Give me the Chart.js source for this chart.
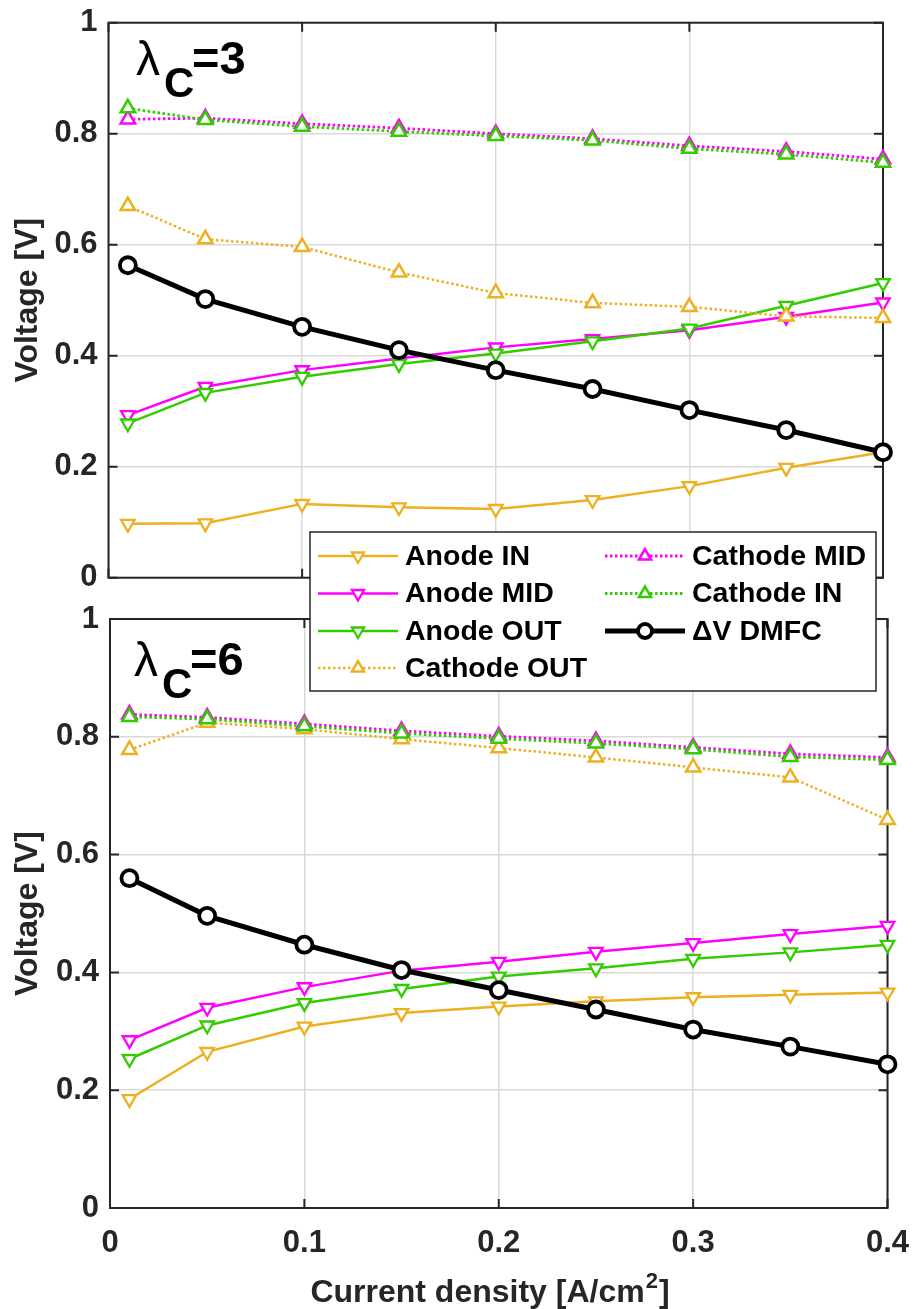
<!DOCTYPE html>
<html>
<head>
<meta charset="utf-8">
<script src="https://cdn.jsdelivr.net/npm/chart.js@4.4.1/dist/chart.umd.min.js"></script>
<style>
  html, body { margin: 0; padding: 0; background: #fff; }
  #wrap { position: relative; width: 914px; height: 1309px; }
  #wrap canvas { position: absolute; left: 0; top: 0; }
  #lower { z-index: 1; }
  #upper { z-index: 2; }
</style>
</head>
<body>
<div id="wrap">
  <canvas id="lower" width="914" height="1309"></canvas>
  <canvas id="upper" width="914" height="1309"></canvas>
</div>
<script>
// ---- data ---------------------------------------------------------------
const currentDensity = [0.01, 0.05, 0.10, 0.15, 0.20, 0.25, 0.30, 0.35, 0.40];
const xTicks = [0, 0.1, 0.2, 0.3, 0.4];
const xTickLabels = ['0', '0.1', '0.2', '0.3', '0.4'];
const yTicks = [0, 0.2, 0.4, 0.6, 0.8, 1];
const yTickLabels = ['0', '0.2', '0.4', '0.6', '0.8', '1'];
const seriesNames = ['Anode IN', 'Anode MID', 'Anode OUT', 'Cathode OUT',
                     'Cathode MID', 'Cathode IN', '\u0394V DMFC'];

// cathode stoichiometry 3
const l3AnodeIn  = [0.097, 0.098, 0.133, 0.127, 0.124, 0.140, 0.165, 0.198, 0.226];
const l3AnodeMid = [0.293, 0.344, 0.374, 0.395, 0.415, 0.430, 0.446, 0.470, 0.496];
const l3AnodeOut = [0.278, 0.333, 0.362, 0.385, 0.404, 0.426, 0.449, 0.490, 0.531];
const l3CathOut  = [0.670, 0.610, 0.596, 0.550, 0.513, 0.495, 0.488, 0.471, 0.468];
const l3CathMid  = [0.826, 0.828, 0.818, 0.810, 0.800, 0.791, 0.778, 0.768, 0.754];
const l3CathIn   = [0.846, 0.825, 0.813, 0.804, 0.796, 0.788, 0.773, 0.763, 0.748];
const l3DeltaV   = [0.563, 0.502, 0.452, 0.410, 0.374, 0.340, 0.302, 0.266, 0.226];

// cathode stoichiometry 6
const l6AnodeIn  = [0.185, 0.265, 0.308, 0.331, 0.342, 0.351, 0.358, 0.362, 0.366];
const l6AnodeMid = [0.285, 0.340, 0.375, 0.403, 0.418, 0.435, 0.450, 0.465, 0.479];
const l6AnodeOut = [0.253, 0.310, 0.348, 0.372, 0.393, 0.407, 0.423, 0.434, 0.447];
const l6CathOut  = [0.778, 0.824, 0.813, 0.796, 0.781, 0.765, 0.748, 0.731, 0.659];
const l6CathMid  = [0.838, 0.833, 0.822, 0.810, 0.801, 0.793, 0.782, 0.771, 0.765];
const l6CathIn   = [0.834, 0.830, 0.818, 0.806, 0.797, 0.789, 0.779, 0.766, 0.761];
const l6DeltaV   = [0.560, 0.496, 0.447, 0.404, 0.370, 0.337, 0.303, 0.274, 0.244];

// ---- styling ------------------------------------------------------------
const ORANGE = '#EDB120', MAGENTA = '#FF00FF', GREEN = '#33CC00', BLACK = '#000000';
const AXIS = '#262626', GRID = '#d9d9d9';
const FONT = '"Liberation Sans", Arial, Helvetica, sans-serif';
const DOT = [2.5, 2.5];

const down = { pointStyle: 'triangle', rot: 180, r: 7.8, pbw: 2.3 };
const up   = { pointStyle: 'triangle', rot: 0,   r: 8.3, pbw: 2.5 };
const ring = { pointStyle: 'circle',   rot: 0,   r: 8,   pbw: 3.8 };
const styles = [
  { color: ORANGE,  width: 2.5, dash: [],  ...down },
  { color: MAGENTA, width: 2.5, dash: [],  ...down },
  { color: GREEN,   width: 2.5, dash: [],  ...down },
  { color: ORANGE,  width: 2.5, dash: DOT, ...up },
  { color: MAGENTA, width: 2.8, dash: DOT, ...up },
  { color: GREEN,   width: 2.8, dash: DOT, ...up },
  { color: BLACK,   width: 5,   dash: [],  ...ring },
];

function makeDatasets(seriesValues) {
  const n = seriesValues.length;
  return seriesValues.map((vals, i) => {
    const s = styles[i];
    return {
      label: seriesNames[i],
      data: currentDensity.map((x, k) => ({ x: x, y: vals[k] })),
      borderColor: s.color,
      backgroundColor: '#ffffff',
      borderWidth: s.width,
      borderDash: s.dash,
      borderCapStyle: 'butt',
      pointStyle: s.pointStyle,
      pointRotation: s.rot,
      pointRadius: s.r,
      pointHoverRadius: s.r,
      pointBorderWidth: s.pbw,
      pointBorderColor: s.color,
      pointBackgroundColor: '#ffffff',
      tension: 0,
      clip: false,
      order: n - i
    };
  });
}

// box outline with inward tick marks, drawn under the data
const framePlugin = {
  id: 'frame',
  beforeDatasetsDraw(chart) {
    const { ctx, chartArea: a, scales } = chart;
    const L = 9;
    ctx.save();
    ctx.strokeStyle = AXIS;
    ctx.lineWidth = 2;
    ctx.beginPath();
    xTicks.forEach(v => {
      const px = scales.x.getPixelForValue(v);
      ctx.moveTo(px, a.bottom); ctx.lineTo(px, a.bottom - L);
      ctx.moveTo(px, a.top);    ctx.lineTo(px, a.top + L);
    });
    yTicks.forEach(v => {
      const py = scales.y.getPixelForValue(v);
      ctx.moveTo(a.left, py);  ctx.lineTo(a.left + L, py);
      ctx.moveTo(a.right, py); ctx.lineTo(a.right - L, py);
    });
    ctx.stroke();
    ctx.strokeRect(a.left, a.top, a.right - a.left, a.bottom - a.top);
    ctx.restore();
  }
};

// λ_C = n label in the upper-left corner of each panel
const lambdaPlugin = {
  id: 'lambdaLabel',
  afterDraw(chart, args, opts) {
    const { ctx, chartArea: a } = chart;
    const x = a.left + opts.dx, y = a.top + opts.dy;
    ctx.save();
    ctx.fillStyle = '#000';
    ctx.textBaseline = 'alphabetic';
    ctx.textAlign = 'left';
    ctx.font = '48px ' + FONT;
    ctx.fillText('\u03bb', x - 1, y + 1);
    ctx.font = 'bold 42px ' + FONT;
    ctx.fillText('C', x + 27, y + 23);
    ctx.font = 'bold 47px ' + FONT;
    ctx.fillText('=' + opts.value, x + 55, y);
    ctx.restore();
  }
};

// x axis title with superscript
const xTitlePlugin = {
  id: 'xTitle',
  afterDraw(chart, args, opts) {
    if (!opts.show) return;
    const { ctx } = chart;
    const big = 'bold 32px ' + FONT, small = 'bold 22px ' + FONT;
    const p1 = 'Current density [A/cm', p2 = '2', p3 = ']';
    ctx.save();
    ctx.font = big;  const w1 = ctx.measureText(p1).width, w3 = ctx.measureText(p3).width;
    ctx.font = small; const w2 = ctx.measureText(p2).width;
    let x = opts.center - (w1 + w2 + w3 + 2) / 2;
    const y = opts.baseline;
    ctx.fillStyle = AXIS;
    ctx.textBaseline = 'alphabetic';
    ctx.font = big;   ctx.fillText(p1, x, y); x += w1;
    ctx.font = small; ctx.fillText(p2, x + 1, y - 14); x += w2 + 2;
    ctx.font = big;   ctx.fillText(p3, x, y);
    ctx.restore();
  }
};

// two-column legend spanning the gap between the panels
const legendPlugin = {
  id: 'boxLegend',
  afterDraw(chart, args, opts) {
    if (!opts.show) return;
    const { ctx } = chart;
    const box = { x: 310, y: 532, w: 566, h: 159 };
    const rows = [556, 593.5, 631, 668];
    const cols = [318, 605];
    const slots = [[0, 0], [0, 1], [0, 2], [0, 3], [1, 0], [1, 1], [1, 2]];
    ctx.save();
    ctx.fillStyle = '#ffffff';
    ctx.fillRect(box.x, box.y, box.w, box.h);
    ctx.strokeStyle = AXIS;
    ctx.lineWidth = 1.5;
    ctx.strokeRect(box.x, box.y, box.w, box.h);
    chart.data.datasets.forEach((ds, i) => {
      const s = styles[i];
      const [c, r] = slots[i];
      const x0 = cols[c], y0 = rows[r];
      ctx.save();
      ctx.strokeStyle = s.color;
      ctx.lineWidth = s.width;
      ctx.setLineDash(s.dash);
      ctx.beginPath(); ctx.moveTo(x0, y0); ctx.lineTo(x0 + 80, y0); ctx.stroke();
      ctx.setLineDash([]);
      ctx.fillStyle = '#ffffff';
      ctx.lineWidth = s.pbw;
      Chart.helpers.drawPoint(ctx, {
        pointStyle: s.pointStyle, rotation: s.rot,
        radius: 7, borderWidth: s.pbw
      }, x0 + 40, y0);
      ctx.restore();
      ctx.fillStyle = '#000';
      ctx.font = 'bold 28.5px ' + FONT;
      ctx.textBaseline = 'middle';
      ctx.fillText(ds.label, x0 + 87, y0 + 1);
    });
    ctx.restore();
  }
};

function panel(canvasId, seriesValues, cfg) {
  const tickFont = { family: FONT, size: 31, weight: 'bold' };
  return new Chart(document.getElementById(canvasId), {
    type: 'line',
    data: { datasets: makeDatasets(seriesValues) },
    options: {
      responsive: false,
      animation: false,
      events: [],
      layout: { padding: cfg.padding },
      plugins: {
        legend: { display: false },
        tooltip: { enabled: false },
        lambdaLabel: { value: cfg.lambda, dx: cfg.lx, dy: cfg.ly },
        xTitle: { show: cfg.showX, baseline: 1302, center: 490 },
        boxLegend: { show: cfg.showLegend }
      },
      scales: {
        x: {
          type: 'linear', min: 0, max: 0.4,
          afterBuildTicks: s => { s.ticks = xTicks.map(v => ({ value: v })); },
          grid: { color: GRID, lineWidth: 1.5, drawTicks: false },
          border: { display: false },
          ticks: {
            display: cfg.showX, font: tickFont, color: AXIS, padding: 17,
            callback: (v, i) => xTickLabels[i]
          },
          afterFit: s => { s.height = cfg.xHeight; s.paddingLeft = 0; s.paddingRight = 0; }
        },
        y: {
          type: 'linear', min: 0, max: 1,
          afterBuildTicks: s => { s.ticks = yTicks.map(v => ({ value: v })); },
          grid: { color: GRID, lineWidth: 1.5, drawTicks: false },
          border: { display: false },
          ticks: {
            font: tickFont, color: AXIS, padding: 11,
            callback: (v, i) => yTickLabels[i]
          },
          title: {
            display: true, text: 'Voltage [V]', color: AXIS,
            font: { family: FONT, size: 32, weight: 'bold' },
            padding: { top: 9, bottom: 0 }
          },
          afterFit: s => { s.width = cfg.yWidth; s.paddingTop = 0; s.paddingBottom = 0; }
        }
      }
    },
    plugins: [framePlugin, lambdaPlugin, xTitlePlugin, legendPlugin]
  });
}

panel('lower', [l6AnodeIn, l6AnodeMid, l6AnodeOut, l6CathOut, l6CathMid, l6CathIn, l6DeltaV], {
  padding: { left: 0, right: 26.5, top: 619, bottom: 0 },
  yWidth: 110, xHeight: 101, showX: true, showLegend: false,
  lambda: '6', lx: 25, ly: 56
});

panel('upper', [l3AnodeIn, l3AnodeMid, l3AnodeOut, l3CathOut, l3CathMid, l3CathIn, l3DeltaV], {
  padding: { left: 0, right: 31, top: 22.7, bottom: 731.3 },
  yWidth: 108.5, xHeight: 0, showX: false, showLegend: true,
  lambda: '3', lx: 28.5, ly: 51
});
</script>
</body>
</html>
